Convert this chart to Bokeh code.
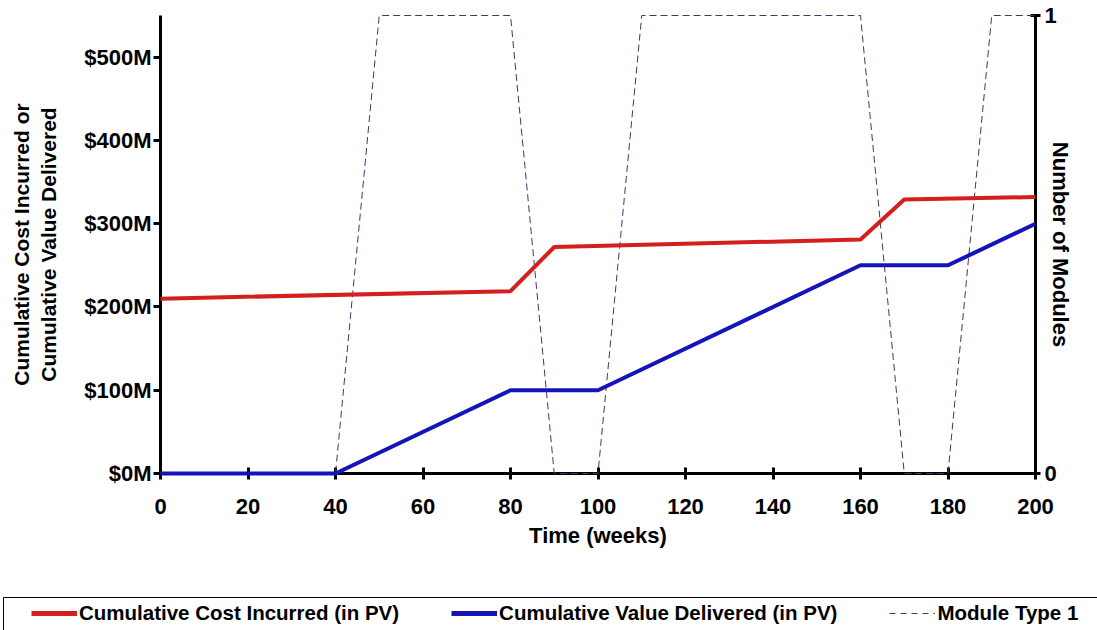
from bokeh.plotting import figure
from bokeh.models import Range1d, LinearAxis, FixedTicker, PrintfTickFormatter, Legend, LegendItem
from bokeh.layouts import column
from bokeh.embed import file_html
from bokeh.resources import INLINE

# ---- data ----
cost_weeks = [0, 80, 90, 160, 170, 200]
cost_musd = [210, 219, 272, 281, 329, 332]

value_weeks = [0, 40, 80, 100, 160, 180, 200]
value_musd = [0, 0, 100, 100, 250, 250, 300]

module_weeks = [0, 40, 50, 80, 90, 100, 110, 160, 170, 180, 190, 200]
module_count = [0, 0, 1, 1, 0, 0, 1, 1, 0, 0, 1, 1]

x_ticks = [0, 20, 40, 60, 80, 100, 120, 140, 160, 180, 200]
left_ticks = [0, 100, 200, 300, 400, 500]
right_ticks = [0, 1]

labels = ["Cumulative Cost Incurred (in PV)", "Cumulative Value Delivered (in PV)", "Module Type 1"]

RED = "#d41f1f"
BLUE = "#1414b8"
PURPLE = "#5a2a6a"
FONT = "Liberation Sans"

p = figure(width=1097, height=597, output_backend="svg", toolbar_location=None,
           x_range=Range1d(0, 200), y_range=Range1d(0, 550),
           min_border_left=160, min_border_right=62, min_border_top=15, min_border_bottom=124)
p.outline_line_color = None
p.xgrid.visible = False
p.ygrid.visible = False
p.extra_y_ranges = {"mod": Range1d(0, 1)}

def style_axis(ax):
    ax.axis_line_width = 3
    ax.axis_line_color = "black"
    ax.major_tick_line_width = 3
    ax.major_tick_line_color = "black"
    ax.minor_tick_line_color = None
    ax.major_label_text_font = FONT
    ax.major_label_text_font_style = "bold"
    ax.major_label_text_font_size = "22px"
    ax.major_label_text_color = "black"
    ax.axis_label_text_font = FONT
    ax.axis_label_text_font_style = "bold"
    ax.axis_label_text_font_size = "22px"
    ax.axis_label_text_color = "black"

xa = p.xaxis[0]
style_axis(xa)
xa.ticker = FixedTicker(ticks=x_ticks)
xa.major_tick_in = 6
xa.major_tick_out = 6
xa.major_label_standoff = 19
xa.axis_label = "Time (weeks)"
xa.axis_label_standoff = 6

ya = p.yaxis[0]
style_axis(ya)
ya.ticker = FixedTicker(ticks=left_ticks)
ya.formatter = PrintfTickFormatter(format="$%dM")
ya.major_tick_in = 0
ya.major_tick_out = 7
ya.major_label_standoff = 2
ya.axis_label = "Cumulative Cost Incurred or\nCumulative Value Delivered"
ya.axis_label_text_font_size = "21px"
ya.axis_label_standoff = 21

ra = LinearAxis(y_range_name="mod")
style_axis(ra)
ra.ticker = FixedTicker(ticks=right_ticks)
ra.major_tick_in = 5
ra.major_tick_out = 5
ra.major_label_standoff = 4
ra.axis_label = "Number of Modules"
ra.axis_label_standoff = -12
p.add_layout(ra, "right")

p.line(module_weeks, module_count, y_range_name="mod", line_color=PURPLE,
       line_width=1, line_dash="7 4", level="overlay")
p.line(cost_weeks, cost_musd, line_color=RED, line_width=4, level="overlay")
p.line(value_weeks, value_musd, line_color=BLUE, line_width=4, level="overlay")

# ---- legend strip (separate plot, box drawn by a top and a left axis line) ----
lg = figure(width=1097, height=33, output_backend="svg", toolbar_location=None,
            x_range=Range1d(0, 1), y_range=Range1d(0, 1), x_axis_location="above",
            min_border_left=3, min_border_right=0, min_border_top=0, min_border_bottom=0)
try:
    lg.frame_align = False
    p.frame_align = False
except Exception:
    pass
lg.outline_line_color = None
lg.xgrid.visible = False
lg.ygrid.visible = False
for ax in (lg.xaxis[0], lg.yaxis[0]):
    ax.ticker = FixedTicker(ticks=[])
    ax.major_tick_in = 0
    ax.major_tick_out = 0
    ax.minor_tick_line_color = None
    ax.major_label_standoff = 0
    ax.major_label_text_font_size = "0px"
    ax.axis_line_color = "black"
    ax.axis_line_width = 1

l1 = lg.line([0, 1], [-5, -5], line_color=RED, line_width=5)
l2 = lg.line([0, 1], [-5, -5], line_color=BLUE, line_width=5)
l3 = lg.line([0, 1], [-5, -5], line_color=PURPLE, line_width=1, line_dash="6 5")

legend = Legend(items=[LegendItem(label=labels[0], renderers=[l1]),
                       LegendItem(label=labels[1], renderers=[l2]),
                       LegendItem(label=labels[2], renderers=[l3])],
                location=(28, 5), orientation="horizontal",
                padding=0, margin=0, spacing=52,
                glyph_width=46, glyph_height=20, label_standoff=2,
                label_text_font=FONT, label_text_font_style="bold",
                label_text_font_size="20.5px", label_text_color="black",
                border_line_color=None, background_fill_alpha=0)
lg.add_layout(legend, "center")

layout = column(p, lg, spacing=0)
open("out.html", "w").write(file_html(layout, INLINE))
